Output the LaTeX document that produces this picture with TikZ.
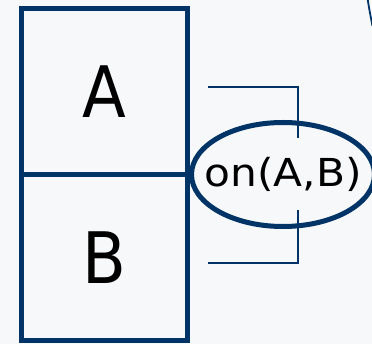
\documentclass[tikz,border=0pt]{standalone}
\usepackage{fontspec}
\setmainfont{DejaVu Sans}
\usetikzlibrary{shapes.geometric}
\definecolor{navy}{RGB}{0,51,102}
\definecolor{bg}{RGB}{247,248,249}
\tikzset{
  blockbox/.style={draw=navy, line width=5pt, rectangle, inner sep=0pt, minimum width=165.5pt},
  bigletter/.style={font=\fontsize{71}{71}\selectfont, text=black},
  relation/.style={draw=navy, line width=5pt, ellipse, inner xsep=-30pt, inner ysep=-30pt, minimum width=183pt, minimum height=104pt, font=\fontsize{38.5}{38.5}\selectfont},
  bracketline/.style={draw=navy, line width=1.5pt}
}
\begin{document}
\begin{tikzpicture}[x=1pt, y=-1pt]
  \fill[bg] (0,0) rectangle (372,344);
  \useasboundingbox (0,0) rectangle (372,344);
  \begin{scope}
  \clip (0,0) rectangle (372,344);
  \node[blockbox, minimum height=165.5pt, bigletter] (A) at (104.25,91.75) {\scalebox{0.9}[1]{A}};
  \node[blockbox, minimum height=166.5pt, bigletter] (B) at (104.25,257.75) {\scalebox{0.9}[1]{B}};
  \node[relation] (on) at (283,174.5) {\scalebox{1.1}[1]{on(A,B)}};
  \coordinate (t1) at (208,87);
  \coordinate (t2) at (298,138);
  \coordinate (b1) at (208,263);
  \coordinate (b2) at (298,210);
  \draw[bracketline] (t1) -| (t2);
  \draw[bracketline] (b1) -| (b2);
  \coordinate (c1) at (367.5,-2);
  \coordinate (c2) at (372.5,26);
  \draw[navy, line width=1.8pt] (c1) .. controls (369,8) .. (c2);
  \end{scope}
\end{tikzpicture}
\end{document}
